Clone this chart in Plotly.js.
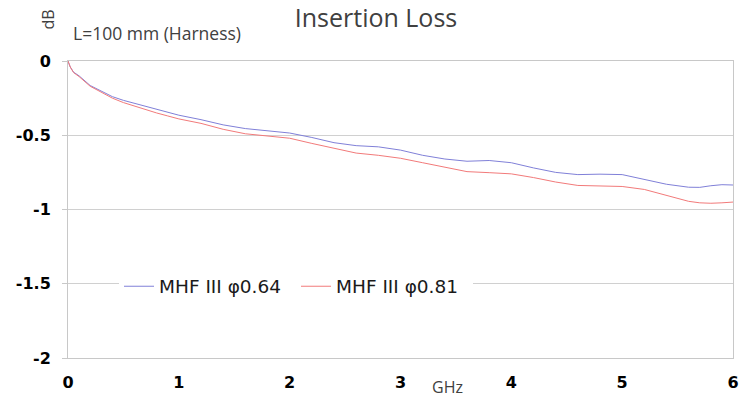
<!DOCTYPE html>
<html>
<head>
<meta charset="utf-8">
<script src="https://cdn.plot.ly/plotly-3.0.1.min.js"></script>
<style>html,body{margin:0;padding:0;background:#fff;}#chart{width:752px;height:403px;}</style>
</head>
<body>
<div id="chart"></div>
<script>
const freq = [0, 0.02, 0.05, 0.1, 0.2, 0.3, 0.4, 0.5, 0.6, 0.7, 0.8, 0.9, 1.0, 1.2, 1.4, 1.6, 1.8, 2.0, 2.2, 2.4, 2.6, 2.8, 3.0, 3.2, 3.4, 3.6, 3.8, 4.0, 4.2, 4.4, 4.6, 4.8, 5.0, 5.2, 5.4, 5.6, 5.7, 5.8, 5.9, 6.0];
const loss064 = [0, -0.04, -0.075, -0.1, -0.165, -0.2, -0.24, -0.265, -0.285, -0.31, -0.33, -0.35, -0.365, -0.395, -0.43, -0.455, -0.47, -0.485, -0.515, -0.55, -0.57, -0.578, -0.6, -0.635, -0.66, -0.675, -0.67, -0.685, -0.72, -0.75, -0.765, -0.762, -0.765, -0.8, -0.83, -0.85, -0.851, -0.84, -0.833, -0.835];
const loss081 = [0, -0.04, -0.078, -0.105, -0.17, -0.21, -0.25, -0.28, -0.305, -0.33, -0.35, -0.37, -0.39, -0.42, -0.46, -0.49, -0.505, -0.52, -0.555, -0.59, -0.62, -0.635, -0.655, -0.685, -0.715, -0.745, -0.752, -0.76, -0.785, -0.815, -0.838, -0.843, -0.845, -0.865, -0.905, -0.945, -0.955, -0.958, -0.955, -0.95];
const seriesNames = ["MHF III φ0.64", "MHF III φ0.81"];
const xTicks = [0, 1, 2, 3, 4, 5, 6];
const yTicks = [0, -0.5, -1, -1.5, -2];
const yTickText = ["0", "-0.5", "-1", "-1.5", "-2"];

const traces = [
  {x: freq, y: loss064, name: seriesNames[0], mode: "lines", line: {color: "#8080d8", width: 1}},
  {x: freq, y: loss081, name: seriesNames[1], mode: "lines", line: {color: "#f27a7a", width: 1}}
];

const boldTick = {family: "DejaVu Sans, Verdana, sans-serif", size: 16, color: "#000", weight: "bold"};

const layout = {
  width: 752, height: 403,
  margin: {l: 68, r: 19, t: 61, b: 45},
  paper_bgcolor: "#fff", plot_bgcolor: "#fff",
  showlegend: true,
  title: {text: "Insertion Loss", x: 0.5, xanchor: "center", y: 0.955, yanchor: "middle",
          font: {family: "Open Sans, Noto Sans, sans-serif", size: 25, color: "#404040"}},
  xaxis: {range: [0, 6], tickvals: xTicks, ticktext: xTicks.map(String), showgrid: false,
          zeroline: false, showline: true, linecolor: "#c8c8c8", linewidth: 1, mirror: true,
          ticks: "", ticklabelstandoff: 10, tickfont: boldTick},
  yaxis: {range: [-2, 0], tickvals: yTicks, ticktext: yTickText, showgrid: true, gridcolor: "#d0d0d0",
          zeroline: false, showline: true, linecolor: "#c8c8c8", linewidth: 1, mirror: true,
          ticks: "outside", ticklen: 5, tickcolor: "#c8c8c8", ticklabelstandoff: 8, tickfont: boldTick},
  legend: {orientation: "h", x: 0.0767, xanchor: "left", y: 0.24, yanchor: "middle",
           bgcolor: "#fff", borderwidth: 0, itemwidth: 30, entrywidth: 132,
           font: {family: "DejaVu Sans, Verdana, sans-serif", size: 18.5, color: "#1a1a1a"}},
  annotations: [
    {text: "L=100 mm (Harness)", xref: "paper", yref: "paper", x: 0.004, xanchor: "left", y: 1.095, yanchor: "middle",
     showarrow: false, font: {family: "Open Sans, Noto Sans, sans-serif", size: 17.5, color: "#404040"}},
    {text: "dB", xref: "paper", yref: "paper", x: -0.03, xanchor: "center", y: 1.14, yanchor: "middle",
     textangle: -90, showarrow: false, font: {family: "Open Sans, Noto Sans, sans-serif", size: 16, color: "#404040"}},
    {text: "GHz", xref: "x", yref: "paper", x: 3.42, xanchor: "center", y: -0.098, yanchor: "middle",
     showarrow: false, font: {family: "Open Sans, Noto Sans, sans-serif", size: 16, color: "#404040"}}
  ]
};

Plotly.newPlot("chart", traces, layout, {displayModeBar: false, staticPlot: true});
</script>
</body>
</html>
